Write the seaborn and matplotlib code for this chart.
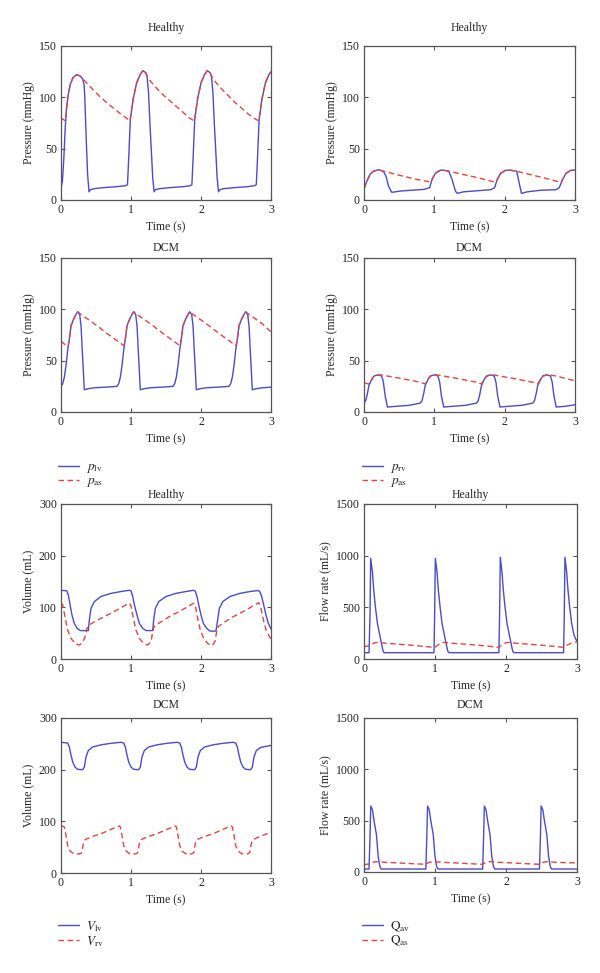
import numpy as np
import matplotlib
matplotlib.use('Agg')
import matplotlib.pyplot as plt
import seaborn as sns

# ── Data (time in s, value) ─────────────────────────────────────────────────
plv_healthy = [(0.00, 12), (0.02, 18), (0.04, 40), (0.06, 70), (0.08, 90), (0.10, 101), (0.13, 112),
               (0.17, 119), (0.22, 122), (0.27, 121), (0.31, 118), (0.33, 112), (0.34, 100), (0.36, 60),
               (0.38, 25), (0.40, 8), (0.42, 10), (0.47, 11), (0.60, 12), (0.80, 13), (0.93, 14),
               (0.95, 15), (0.97, 45), (0.99, 78), (1.03, 98), (1.08, 114), (1.13, 122), (1.17, 126),
               (1.21, 124), (1.23, 120), (1.25, 105), (1.27, 75), (1.29, 49), (1.31, 22), (1.33, 8),
               (1.35, 10), (1.40, 11), (1.55, 12), (1.75, 13), (1.85, 14), (1.87, 15), (1.89, 45),
               (1.91, 78), (1.95, 98), (2.00, 114), (2.05, 122), (2.09, 126), (2.13, 124), (2.15, 120),
               (2.17, 105), (2.19, 75), (2.21, 49), (2.23, 22), (2.25, 8), (2.27, 10), (2.32, 11),
               (2.47, 12), (2.67, 13), (2.77, 14), (2.79, 15), (2.81, 45), (2.83, 78), (2.87, 98),
               (2.92, 114), (2.97, 122), (3.00, 125)]
pas_healthy = [(0.00, 80), (0.03, 78.5), (0.065, 77), (0.08, 90), (0.10, 101), (0.13, 112), (0.17, 119),
               (0.22, 122), (0.27, 121), (0.31, 118), (0.34, 116), (0.45, 108), (0.55, 101), (0.65, 95),
               (0.75, 89.5), (0.85, 84), (0.93, 80), (0.985, 77), (1.03, 98), (1.08, 114), (1.13, 122),
               (1.17, 126), (1.21, 124), (1.25, 118), (1.35, 110), (1.45, 103), (1.55, 97), (1.65, 91),
               (1.75, 85), (1.83, 80), (1.905, 77), (1.95, 98), (2.00, 114), (2.05, 122), (2.09, 126),
               (2.13, 124), (2.17, 118), (2.27, 110), (2.37, 103), (2.47, 96), (2.57, 90), (2.67, 84),
               (2.75, 80), (2.825, 77), (2.87, 98), (2.92, 114), (2.97, 122), (3.00, 125)]

prv_healthy = [(0.000, 11), (0.038, 18), (0.086, 25), (0.133, 28), (0.205, 29.5), (0.276, 28), (0.314, 23),
               (0.348, 13.5), (0.395, 7.5), (0.43, 7.8), (0.514, 8.7), (0.657, 9.4), (0.848, 10.3),
               (0.933, 12), (0.967, 20), (1.014, 26), (1.086, 29), (1.133, 29), (1.205, 28), (1.252, 20),
               (1.300, 8.7), (1.324, 6.5), (1.419, 8), (1.61, 9), (1.80, 10), (1.857, 12), (1.895, 20),
               (1.943, 26), (2.014, 29), (2.086, 29), (2.171, 28), (2.205, 17), (2.238, 6.5), (2.324, 8),
               (2.514, 9.5), (2.729, 10), (2.776, 12), (2.824, 20), (2.871, 26), (2.943, 29), (3.00, 29)]
pas2_healthy = [(0.000, 11), (0.038, 18), (0.086, 25), (0.133, 28), (0.205, 29.5), (0.276, 28), (0.30, 27.8),
                (0.45, 25), (0.60, 22.5), (0.75, 20), (0.87, 18.5), (0.955, 17.5), (0.967, 20), (1.014, 26),
                (1.086, 29), (1.133, 29), (1.205, 28), (1.40, 25), (1.60, 22), (1.75, 19.5), (1.875, 17),
                (1.895, 20), (1.943, 26), (2.014, 29), (2.086, 29), (2.171, 28), (2.35, 25), (2.50, 22.5),
                (2.65, 20), (2.80, 17), (2.824, 20), (2.871, 26), (2.943, 29), (3.00, 29)]

plv_dcm = [(0, 25), (0.024, 27.5), (0.048, 34), (0.071, 45), (0.095, 60), (0.119, 71), (0.143, 84),
           (0.181, 90.5), (0.214, 95), (0.238, 97.6), (0.267, 95), (0.286, 84), (0.31, 52), (0.333, 21.7),
           (0.381, 22.6), (0.476, 23.6), (0.667, 24.3),
           (0.8, 25), (0.824, 27.5), (0.848, 34), (0.871, 45), (0.895, 60), (0.919, 71), (0.943, 84),
           (0.981, 90.5), (1.014, 95), (1.038, 97.6), (1.067, 95), (1.086, 84), (1.11, 52), (1.133, 21.7),
           (1.181, 22.6), (1.276, 23.6), (1.467, 24.3),
           (1.6, 25), (1.624, 27.5), (1.648, 34), (1.671, 45), (1.695, 60), (1.719, 71), (1.743, 84),
           (1.781, 90.5), (1.814, 95), (1.838, 97.6), (1.867, 95), (1.886, 84), (1.91, 52), (1.933, 21.7),
           (1.981, 22.6), (2.076, 23.6), (2.267, 24.3),
           (2.4, 25), (2.424, 27.5), (2.448, 34), (2.471, 45), (2.495, 60), (2.519, 71), (2.543, 84),
           (2.581, 90.5), (2.614, 95), (2.638, 97.6), (2.667, 95), (2.686, 84), (2.71, 52), (2.733, 21.7),
           (2.781, 22.6), (2.876, 23.6), (3.0, 24.2)]
pas_dcm = [(0, 69), (0.05, 66), (0.10, 63.5), (0.119, 71), (0.143, 84), (0.181, 90.5), (0.214, 95),
           (0.238, 97.6), (0.267, 96), (0.35, 92), (0.476, 86), (0.667, 76), (0.8, 69.5), (0.9, 64.5),
           (0.919, 71), (0.943, 84), (0.981, 90.5), (1.014, 95), (1.038, 97.6), (1.067, 96), (1.15, 92),
           (1.276, 86), (1.467, 76), (1.6, 69.5), (1.7, 64.5), (1.719, 71), (1.743, 84), (1.781, 90.5),
           (1.814, 95), (1.838, 97.6), (1.867, 96), (1.95, 92), (2.076, 86), (2.267, 76), (2.4, 69.5),
           (2.5, 64.5), (2.519, 71), (2.543, 84), (2.581, 90.5), (2.614, 95), (2.638, 97.6), (2.667, 96),
           (2.75, 92), (2.876, 86), (3.0, 78)]

prv_dcm = [(0, 8.7), (0.024, 11), (0.048, 17.8), (0.071, 26), (0.11, 31.7), (0.143, 35), (0.2, 36.2),
           (0.252, 35), (0.276, 29), (0.3, 16), (0.333, 4.8), (0.357, 5), (0.452, 5.5), (0.643, 6.5),
           (0.8, 8.7), (0.824, 11), (0.848, 17.8), (0.871, 26), (0.91, 31.7), (0.943, 35), (1.0, 36.2),
           (1.052, 35), (1.076, 29), (1.1, 16), (1.133, 4.8), (1.157, 5), (1.252, 5.5), (1.443, 6.5),
           (1.6, 8.7), (1.624, 11), (1.648, 17.8), (1.671, 26), (1.71, 31.7), (1.743, 35), (1.8, 36.2),
           (1.852, 35), (1.876, 29), (1.9, 16), (1.933, 4.8), (1.957, 5), (2.052, 5.5), (2.243, 6.5),
           (2.4, 8.7), (2.424, 11), (2.448, 17.8), (2.471, 26), (2.51, 31.7), (2.543, 35), (2.6, 36.2),
           (2.652, 35), (2.676, 29), (2.7, 16), (2.733, 4.8), (2.757, 5), (2.852, 5.5), (3.0, 7)]
pas2_dcm = [(0, 28.5), (0.07, 27.2), (0.11, 31.7), (0.143, 35), (0.2, 36.2), (0.252, 36), (0.35, 34.8),
            (0.5, 33), (0.65, 31), (0.8, 29), (0.87, 27.3), (0.91, 31.7), (0.943, 35), (1.0, 36.2),
            (1.052, 36), (1.15, 34.8), (1.3, 33), (1.45, 31), (1.6, 29), (1.67, 27.3), (1.71, 31.7),
            (1.743, 35), (1.8, 36.2), (1.852, 36), (1.95, 34.8), (2.1, 33), (2.25, 31), (2.4, 29),
            (2.47, 27.3), (2.51, 31.7), (2.543, 35), (2.6, 36.2), (2.652, 36), (2.75, 34.8), (2.9, 32),
            (3.0, 30.5)]

vlv_healthy = [(0, 133), (0.081, 132), (0.105, 124), (0.129, 105), (0.157, 85), (0.19, 69), (0.229, 59.5),
               (0.276, 55), (0.39, 55), (0.405, 75.6), (0.429, 98), (0.476, 111), (0.571, 121), (0.714, 127),
               (0.857, 130.6), (0.976, 133), (1.0, 132), (1.024, 121), (1.048, 105), (1.086, 85), (1.119, 69),
               (1.167, 59.5), (1.214, 55), (1.31, 55), (1.324, 75.6), (1.348, 98), (1.395, 111), (1.5, 121),
               (1.643, 127), (1.786, 130.6), (1.895, 133), (1.919, 131), (1.943, 121), (1.967, 105),
               (2.0, 85), (2.033, 69), (2.081, 59.5), (2.129, 54), (2.214, 54), (2.238, 75.6), (2.262, 98),
               (2.31, 111), (2.414, 121), (2.557, 127), (2.7, 130.6), (2.81, 132.5), (2.838, 131),
               (2.867, 121), (2.895, 105), (2.929, 85), (2.962, 69), (3.0, 58)]
vrv_healthy = [(0, 108), (0.024, 105), (0.057, 82), (0.095, 56), (0.143, 40), (0.2, 30), (0.262, 27),
               (0.31, 32), (0.343, 43), (0.371, 59.5), (0.405, 66), (0.476, 72), (0.619, 82), (0.762, 92),
               (0.905, 103), (0.976, 108), (1.0, 103), (1.033, 79), (1.071, 56), (1.119, 40), (1.181, 30),
               (1.238, 27), (1.286, 33.6), (1.31, 53), (1.333, 63), (1.405, 70), (1.548, 82), (1.69, 92),
               (1.833, 103), (1.895, 108), (1.919, 103), (1.952, 79), (1.99, 56), (2.038, 40), (2.095, 30),
               (2.157, 26), (2.2, 33.6), (2.224, 53), (2.248, 63), (2.319, 70), (2.462, 82), (2.605, 92),
               (2.748, 103), (2.824, 109), (2.848, 104), (2.881, 82), (2.929, 56), (3.0, 38)]

qav_healthy = [(0, 61), (0.071, 61), (0.085, 440), (0.094, 974), (0.118, 845), (0.137, 668), (0.16, 506),
               (0.189, 345), (0.222, 232), (0.245, 152), (0.269, 77), (0.283, 61), (0.986, 61), (0.995, 440),
               (1.005, 974), (1.028, 845), (1.047, 668), (1.071, 506), (1.099, 345), (1.132, 232),
               (1.156, 152), (1.179, 77), (1.198, 61), (1.90, 61), (1.91, 440), (1.92, 984), (1.943, 845),
               (1.962, 668), (1.986, 506), (2.014, 345), (2.047, 232), (2.071, 152), (2.094, 77),
               (2.113, 61), (2.811, 61), (2.821, 440), (2.83, 984), (2.854, 845), (2.873, 668),
               (2.896, 506), (2.925, 345), (2.958, 232), (2.981, 195), (3.0, 175)]
qas_healthy = [(0, 119), (0.08, 129), (0.151, 158), (0.198, 161), (0.316, 152), (0.505, 142), (0.741, 129),
               (0.976, 113), (1.0, 113), (1.071, 152), (1.118, 161), (1.259, 152), (1.448, 142), (1.684, 129),
               (1.896, 113), (1.976, 152), (2.024, 161), (2.156, 152), (2.344, 142), (2.58, 129),
               (2.807, 113), (2.863, 135), (2.934, 158), (3.0, 168)]

vlv_dcm = [(0, 253), (0.095, 251.6), (0.119, 244), (0.143, 228), (0.167, 215), (0.2, 205), (0.238, 200.6),
           (0.31, 200), (0.333, 205), (0.357, 224.5), (0.39, 237), (0.452, 244), (0.571, 248), (0.714, 251),
           (0.857, 253), (0.895, 251.6), (0.919, 244), (0.943, 228), (0.967, 215), (1.0, 205),
           (1.038, 200.6), (1.11, 200), (1.133, 205), (1.157, 224.5), (1.19, 237), (1.252, 244),
           (1.371, 248), (1.514, 251), (1.657, 253), (1.695, 251.6), (1.719, 244), (1.743, 228),
           (1.767, 215), (1.8, 205), (1.838, 200.6), (1.91, 200), (1.933, 205), (1.957, 224.5),
           (1.99, 237), (2.052, 244), (2.171, 248), (2.314, 251), (2.457, 253), (2.495, 251.6),
           (2.519, 244), (2.543, 228), (2.567, 215), (2.6, 205), (2.638, 200.6), (2.71, 200),
           (2.733, 205), (2.757, 224.5), (2.79, 237), (2.852, 243), (3.0, 247)]
vrv_dcm = [(0, 92), (0.048, 89), (0.071, 73), (0.095, 53.5), (0.133, 42), (0.181, 37.4), (0.262, 36.8),
           (0.295, 39), (0.319, 57), (0.343, 64.5), (0.429, 69.7), (0.571, 76), (0.714, 84.5), (0.833, 91),
           (0.848, 89), (0.871, 73), (0.895, 53.5), (0.933, 42), (0.981, 37.4), (1.062, 36.8), (1.095, 39),
           (1.119, 57), (1.143, 64.5), (1.229, 69.7), (1.371, 76), (1.514, 84.5), (1.633, 91), (1.648, 89),
           (1.671, 73), (1.695, 53.5), (1.733, 42), (1.781, 37.4), (1.862, 36.8), (1.895, 39), (1.919, 57),
           (1.943, 64.5), (2.029, 69.7), (2.171, 76), (2.314, 84.5), (2.433, 91), (2.448, 89), (2.471, 73),
           (2.495, 53.5), (2.533, 42), (2.581, 37.4), (2.662, 36.8), (2.695, 39), (2.719, 57),
           (2.743, 64.5), (2.829, 70), (3.0, 79)]

qav_dcm = [(0, 29), (0.071, 29), (0.085, 349), (0.095, 642), (0.118, 609), (0.142, 495), (0.175, 365),
           (0.199, 156), (0.223, 55), (0.242, 29), (0.871, 29), (0.885, 349), (0.895, 642), (0.918, 609),
           (0.942, 495), (0.975, 365), (0.999, 156), (1.023, 55), (1.042, 29), (1.671, 29), (1.685, 349),
           (1.695, 642), (1.718, 609), (1.742, 495), (1.775, 365), (1.799, 156), (1.823, 55), (1.842, 29),
           (2.471, 29), (2.485, 349), (2.495, 642), (2.518, 609), (2.542, 495), (2.575, 365), (2.599, 156),
           (2.623, 55), (2.642, 29), (3.0, 29)]
qas_dcm = [(0, 72), (0.071, 78), (0.118, 94), (0.175, 101), (0.308, 94), (0.498, 88), (0.687, 81),
           (0.867, 75), (0.918, 94), (0.975, 101), (1.108, 94), (1.298, 88), (1.487, 81), (1.667, 75),
           (1.718, 94), (1.775, 101), (1.908, 94), (2.098, 88), (2.287, 81), (2.467, 75), (2.518, 94),
           (2.575, 101), (2.708, 94), (3.0, 88)]

titles = ['Healthy', 'Healthy', 'DCM', 'DCM', 'Healthy', 'Healthy', 'DCM', 'DCM']
ylabels = ['Pressure (mmHg)', 'Pressure (mmHg)', 'Pressure (mmHg)', 'Pressure (mmHg)',
           'Volume (mL)', 'Flow rate (mL/s)', 'Volume (mL)', 'Flow rate (mL/s)']
yticks_p = [0, 50, 100, 150]
yticks_v = [0, 100, 200, 300]
yticks_q = [0, 500, 1000, 1500]
xticks = [0, 1, 2, 3]

legend_labels = [[r'$p_{\mathrm{lv}}$', r'$p_{\mathrm{as}}$'],
                 [r'$p_{\mathrm{rv}}$', r'$p_{\mathrm{as}}$'],
                 [r'$V_{\mathrm{lv}}$', r'$V_{\mathrm{rv}}$'],
                 [r'$\mathrm{Q}_{\mathrm{av}}$', r'$\mathrm{Q}_{\mathrm{as}}$']]

# ── Style ───────────────────────────────────────────────────────────────────
sns.set_theme(style='ticks')
plt.rcParams['font.family'] = ['Liberation Serif', 'DejaVu Serif']
plt.rcParams['mathtext.fontset'] = 'stix'
plt.rcParams['font.size'] = 8.5

BLUE = '#4b4bc8'
RED = '#de4646'
FRAME = '#555555'

W, H = 600, 973
fig = plt.figure(figsize=(W / 100, H / 100), dpi=100)


def px_axes(left, top, right, bottom):
    return fig.add_axes([left / W, 1 - bottom / H, (right - left) / W, (bottom - top) / H])


boxes = [(61, 46, 271, 200), (364, 46, 575, 200),
         (61, 258, 271, 412), (364, 258, 575, 412),
         (61, 504, 271, 659), (364, 504, 577, 659),
         (61, 718, 271, 873), (364, 718, 577, 872)]
series = [(plv_healthy, pas_healthy), (prv_healthy, pas2_healthy),
          (plv_dcm, pas_dcm), (prv_dcm, pas2_dcm),
          (vlv_healthy, vrv_healthy), (qav_healthy, qas_healthy),
          (vlv_dcm, vrv_dcm), (qav_dcm, qas_dcm)]
yticks_all = [yticks_p] * 4 + [yticks_v, yticks_q, yticks_v, yticks_q]
title_pads = [11, 11, 5, 5, 4.5, 4.5, 7, 7]

axes = []
for i, box in enumerate(boxes):
    ax = px_axes(*box)
    blue, red = series[i]
    b = np.array(blue)
    r = np.array(red)
    sns.lineplot(x=b[:, 0], y=b[:, 1], ax=ax, color=BLUE, linewidth=1.0,
                 estimator=None, sort=False)
    sns.lineplot(x=r[:, 0], y=r[:, 1], ax=ax, color=RED, linewidth=1.0,
                 estimator=None, sort=False, linestyle=(0, (4, 2.5)))
    yt = yticks_all[i]
    ax.set_xlim(0, 3)
    ax.set_ylim(yt[0], yt[-1])
    ax.set_xticks(xticks)
    ax.set_yticks(yt)
    ax.set_xlabel('Time (s)', fontsize=8.5, labelpad=4)
    ax.set_ylabel(ylabels[i], fontsize=8.5, labelpad=3)
    ax.set_title(titles[i], fontsize=8.5, pad=title_pads[i])
    ax.tick_params(direction='in', top=True, right=True, length=3, width=0.8,
                   labelsize=8.5, pad=3, color=FRAME, labelcolor='#222222')
    for s in ax.spines.values():
        s.set_visible(True)
        s.set_linewidth(0.9)
        s.set_color(FRAME)
    axes.append(ax)

# legends under the DCM rows
legend_pos = [(2, 58, 461), (3, 362, 461), (6, 58, 919), (7, 362, 919)]
for k, (ai, lx, ly) in enumerate(legend_pos):
    ax = axes[ai]
    handles = ax.get_lines()[:2]
    ax.legend(handles, legend_labels[k], loc='upper left',
              bbox_to_anchor=(lx / W, 1 - ly / H), bbox_transform=fig.transFigure,
              frameon=False, fontsize=9.5, handlelength=1.6, handletextpad=0.5,
              labelspacing=0.0, borderpad=0, borderaxespad=0)

fig.savefig('out.png', dpi=100)
